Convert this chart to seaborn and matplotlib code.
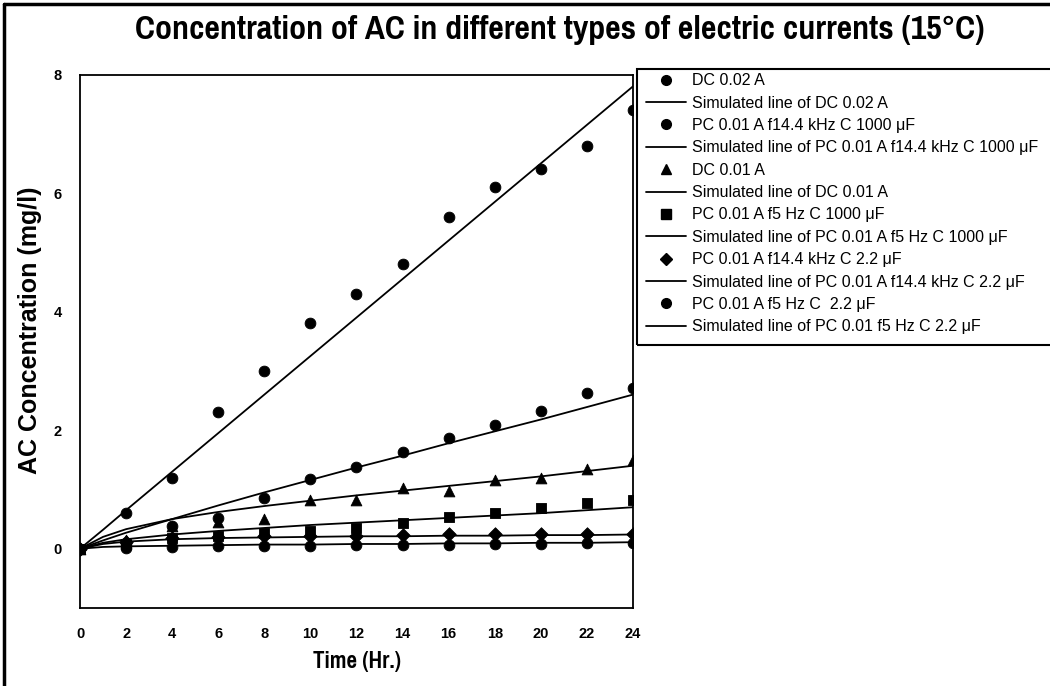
import matplotlib
matplotlib.use("Agg")
import matplotlib.pyplot as plt
from matplotlib.lines import Line2D
from matplotlib.patches import Rectangle
from matplotlib import font_manager
import seaborn as sns
import pandas as pd

sns.set_style("white")
plt.rcParams["font.family"] = ["Liberation Sans", "DejaVu Sans"]
plt.rcParams.update({"text.color": "black", "axes.labelcolor": "black",
                     "xtick.color": "black", "ytick.color": "black"})


def condensed_bold():
    """Pick an installed condensed/narrow bold face for headings."""
    best = None
    for f in font_manager.fontManager.ttflist:
        narrow = ("Narrow" in f.name or "Condensed" in f.name
                  or f.stretch in ("condensed", "semi-condensed", 600, 700)
                  or "Condensed" in f.fname or "Narrow" in f.fname)
        bold = (f.weight in ("bold", 700) or "Bold" in f.fname)
        if narrow and bold and "Oblique" not in f.fname and "Italic" not in f.fname:
            if best is None or "Liberation" in f.fname or "Narrow" in f.fname:
                best = f.fname
    if best:
        return font_manager.FontProperties(fname=best)
    return font_manager.FontProperties(family="Liberation Sans", weight="bold")


head_font = condensed_bold()

# Sampling times (hours)
time_hr = [0, 2, 4, 6, 8, 10, 12, 14, 16, 18, 20, 22, 24]
sim_time_hr = [0, 1, 2, 4, 6, 8, 10, 12, 14, 16, 18, 20, 22, 24]

# Measured AC concentration (mg/l)
dc_002 = [0, 0.6, 1.2, 2.3, 3.0, 3.8, 4.3, 4.8, 5.6, 6.1, 6.4, 6.8, 7.4]
pc_144k_1000 = [0, 0.1, 0.38, 0.52, 0.86, 1.18, 1.38, 1.63, 1.87, 2.08, 2.33, 2.63, 2.71]
dc_001 = [0, 0.15, 0.38, 0.45, 0.5, 0.83, 0.83, 1.03, 0.98, 1.16, 1.2, 1.35, 1.5]
pc_5hz_1000 = [0, 0.08, 0.18, 0.22, 0.27, 0.3, 0.35, 0.44, 0.53, 0.6, 0.68, 0.77, 0.82]
pc_144k_22 = [0, 0.12, 0.18, 0.2, 0.22, 0.22, 0.22, 0.23, 0.24, 0.25, 0.25, 0.25, 0.25]
pc_5hz_22 = [0, 0.02, 0.03, 0.04, 0.05, 0.05, 0.06, 0.06, 0.07, 0.08, 0.08, 0.09, 0.1]

# Simulated curves (mg/l)
sim_dc_002 = [0, 0.32, 0.65, 1.3, 1.95, 2.6, 3.25, 3.9, 4.55, 5.2, 5.85, 6.5, 7.15, 7.8]
sim_pc_144k_1000 = [0, 0.14, 0.27, 0.5, 0.73, 0.95, 1.16, 1.37, 1.57, 1.78, 1.98, 2.18, 2.39, 2.6]
sim_dc_001 = [0, 0.2, 0.33, 0.5, 0.62, 0.72, 0.81, 0.9, 0.98, 1.06, 1.14, 1.22, 1.31, 1.4]
sim_pc_5hz_1000 = [0, 0.1, 0.16, 0.24, 0.3, 0.35, 0.4, 0.44, 0.48, 0.52, 0.56, 0.6, 0.65, 0.7]
sim_pc_144k_22 = [0, 0.08, 0.12, 0.16, 0.18, 0.19, 0.2, 0.21, 0.21, 0.22, 0.22, 0.23, 0.23, 0.24]
sim_pc_5hz_22 = [0, 0.03, 0.04, 0.05, 0.06, 0.07, 0.07, 0.08, 0.08, 0.09, 0.09, 0.1, 0.1, 0.11]

series = [
    ("DC 0.02 A", dc_002, "o",
     "Simulated line of DC 0.02 A", sim_dc_002),
    ("PC 0.01 A f14.4 kHz C 1000 μF", pc_144k_1000, "o",
     "Simulated line of PC 0.01 A f14.4 kHz C 1000 μF", sim_pc_144k_1000),
    ("DC 0.01 A", dc_001, "^",
     "Simulated line of DC 0.01 A", sim_dc_001),
    ("PC 0.01 A f5 Hz C 1000 μF", pc_5hz_1000, "s",
     "Simulated line of PC 0.01 A f5 Hz C 1000 μF", sim_pc_5hz_1000),
    ("PC 0.01 A f14.4 kHz C 2.2 μF", pc_144k_22, "D",
     "Simulated line of PC 0.01 A f14.4 kHz C 2.2 μF", sim_pc_144k_22),
    ("PC 0.01 A f5 Hz C  2.2 μF", pc_5hz_22, "o",
     "Simulated line of PC 0.01 f5 Hz C 2.2 μF", sim_pc_5hz_22),
]

W, H = 1050, 686
fig = plt.figure(figsize=(W / 100, H / 100), dpi=100)
ax = fig.add_axes([80 / W, 1 - 608 / H, (633 - 80) / W, (608 - 74.5) / H])

handles = []
for name, meas, marker, sim_name, sim in series:
    df_m = pd.DataFrame({"t": time_hr, "c": meas})
    df_s = pd.DataFrame({"t": sim_time_hr, "c": sim})
    msize = 60 if marker != "D" else 48
    sns.lineplot(data=df_s, x="t", y="c", color="black", linewidth=1.3,
                 ax=ax, legend=False, zorder=2)
    sns.scatterplot(data=df_m, x="t", y="c", marker=marker, color="black",
                    edgecolor="black", s=msize, ax=ax, legend=False, zorder=3)
    handles.append(Line2D([], [], linestyle="none", marker=marker, color="black",
                          markersize=7 if marker != "D" else 6, label=name))
    handles.append(Line2D([], [], color="black", linewidth=1.3, label=sim_name))

ax.set_xlim(0, 24)
ax.set_ylim(-1, 8)
ax.set_xticks(range(0, 25, 2))
ax.set_yticks(range(0, 9, 2))
for s in ax.spines.values():
    s.set_color("black")
    s.set_linewidth(1.3)
ax.tick_params(axis="both", direction="out", length=5, width=1.2, color="black",
               labelsize=10.5)
ax.tick_params(axis="y", pad=8)
ax.tick_params(axis="x", pad=9)
for lab in ax.get_xticklabels() + ax.get_yticklabels():
    lab.set_fontweight("bold")

xl_font = head_font.copy()
xl_font.set_size(18)
ax.set_xlabel("Time (Hr.)", fontproperties=xl_font, labelpad=7)
ax.set_ylabel("AC Concentration (mg/l)", fontsize=18, fontweight="bold")
ax.yaxis.set_label_coords(-38 / (633 - 80), 0.52)

title_font = head_font.copy()
title_font.set_size(26.5)
fig.text(560 / W, 1 - 30 / H,
         "Concentration of AC in different types of electric currents (15°C)",
         ha="center", va="center", fontproperties=title_font)

# Legend panel (its right side runs off the figure)
fig.patches.append(Rectangle((637 / W, 1 - 345 / H), (1070 - 637) / W, (345 - 69) / H,
                             transform=fig.transFigure, fill=False,
                             edgecolor="black", linewidth=1.5, zorder=5))
leg = fig.legend(handles=handles, loc="upper left",
                 bbox_to_anchor=(632 / W, 1 - 59 / H), frameon=False,
                 fontsize=11.5, handlelength=2.5, handletextpad=0.35,
                 labelspacing=0.46, borderpad=0.4)

# Outer frame on the left and top edges
fig.add_artist(Line2D([4 / W, 4 / W], [0, 1 - 4 / H], transform=fig.transFigure,
                      color="black", linewidth=2.5))
fig.add_artist(Line2D([4 / W, 1], [1 - 4 / H, 1 - 4 / H], transform=fig.transFigure,
                      color="black", linewidth=2.5))

fig.savefig("out.png", dpi=100)
